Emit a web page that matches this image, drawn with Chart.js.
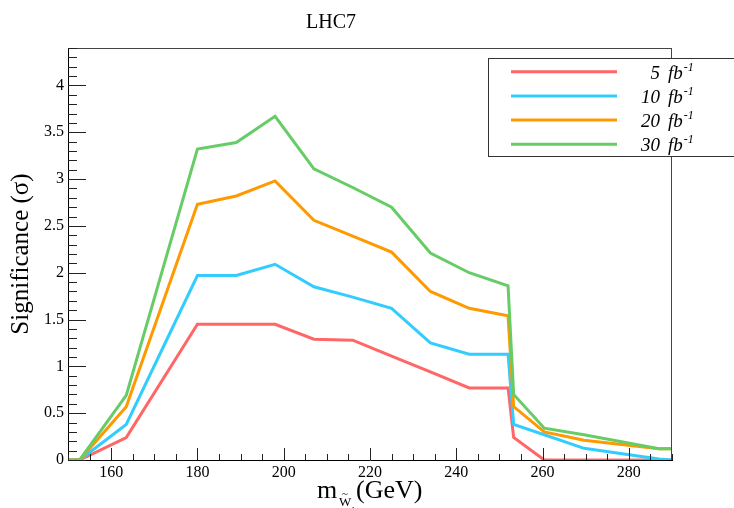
<!DOCTYPE html>
<html>
<head>
<meta charset="utf-8">
<script src="https://cdn.jsdelivr.net/npm/chart.js@4.4.1/dist/chart.umd.min.js"></script>
<style>
  html, body { margin: 0; padding: 0; background: #fff; }
  #wrap { width: 734px; height: 508px; }
</style>
</head>
<body>
<div id="wrap"><canvas id="chart" width="734" height="508"></canvas></div>
<script>
'use strict';

// ── Data ──────────────────────────────────────────────────────────────────────

const masses = [150, 152.7, 163.5, 180, 189, 198, 207, 216, 225, 234, 243, 252, 253.3, 260.4, 269.6, 287, 290];
const sig5   = [0, 0, 0.24, 1.45, 1.45, 1.45, 1.29, 1.28, 1.11, 0.94, 0.77, 0.77, 0.24, 0, 0, 0, 0];
const sig10  = [0, 0, 0.38, 1.97, 1.97, 2.09, 1.85, 1.74, 1.62, 1.25, 1.13, 1.13, 0.38, 0.27, 0.125, 0.01, 0];
const sig20  = [0, 0, 0.57, 2.73, 2.82, 2.98, 2.56, 2.39, 2.22, 1.80, 1.62, 1.54, 0.57, 0.30, 0.21, 0.12, 0.12];
const sig30  = [0, 0, 0.69, 3.32, 3.39, 3.67, 3.11, 2.91, 2.70, 2.21, 2.00, 1.86, 0.70, 0.34, 0.27, 0.12, 0.12];

const lumis      = ['5', '10', '20', '30'];
const lineColors = ['#ff6666', '#33ccff', '#ff9900', '#66cc66'];
const xTicks = [160, 180, 200, 220, 240, 260, 280];
const yTicks = [0, 0.5, 1, 1.5, 2, 2.5, 3, 3.5, 4];

const SERIF = "'Liberation Serif', 'Times New Roman', 'DejaVu Serif', serif";

const series = [sig5, sig10, sig20, sig30];

// ── Frame, inner ticks, legend and labels ─────────────────────────────────────

const framePlugin = {
  id: 'frame',
  afterDraw(chart) {
    const { ctx, chartArea: a, scales: { x, y } } = chart;
    ctx.save();

    // top + right frame
    ctx.strokeStyle = '#444';
    ctx.lineWidth = 1;
    ctx.beginPath();
    ctx.moveTo(a.left, a.top + 0.5);
    ctx.lineTo(a.right, a.top + 0.5);
    ctx.moveTo(a.right - 0.5, a.top);
    ctx.lineTo(a.right - 0.5, a.bottom);
    ctx.stroke();

    // ticks pointing inward
    ctx.strokeStyle = '#222';
    ctx.beginPath();
    for (let v = 150; v <= 290; v += 5) {
      const px = Math.round(x.getPixelForValue(v)) + 0.5;
      const len = v % 20 === 0 ? 12 : 6;
      ctx.moveTo(px, a.bottom);
      ctx.lineTo(px, a.bottom - len);
    }
    for (let i = 0; i <= 44; i++) {
      const py = Math.round(y.getPixelForValue(i / 10)) + 0.5;
      const len = i % 5 === 0 ? 18 : 9;
      ctx.moveTo(a.left, py);
      ctx.lineTo(a.left + len, py);
    }
    ctx.stroke();

    // legend box
    ctx.fillStyle = '#fff';
    ctx.fillRect(488, 58, 260, 98);
    ctx.strokeStyle = '#333';
    ctx.strokeRect(488.5, 58.5, 260, 98);

    chart.data.datasets.forEach((ds, i) => {
      const yy = 71.7 + i * 24.2;
      ctx.strokeStyle = ds.borderColor;
      ctx.lineWidth = 3;
      ctx.beginPath();
      ctx.moveTo(511, yy);
      ctx.lineTo(617, yy);
      ctx.stroke();

      ctx.fillStyle = '#000';
      ctx.textBaseline = 'alphabetic';
      ctx.font = `italic 19px ${SERIF}`;
      ctx.textAlign = 'right';
      ctx.fillText(lumis[i], 660, yy + 6.8);
      ctx.textAlign = 'left';
      ctx.fillText('fb', 668, yy + 6.8);
      const w = ctx.measureText('fb').width;
      ctx.font = `italic 12px ${SERIF}`;
      ctx.fillText('-1', 668 + w + 1, yy - 1);
    });

    // title
    ctx.fillStyle = '#000';
    ctx.textAlign = 'center';
    ctx.font = `20px ${SERIF}`;
    ctx.fillText('LHC7', 331, 28);

    // x axis title: m_{W~1} (GeV)
    ctx.textAlign = 'left';
    ctx.font = `26px ${SERIF}`;
    ctx.fillText('m', 317, 498);
    ctx.font = `13px ${SERIF}`;
    ctx.fillText('W', 339, 506);
    ctx.textAlign = 'center';
    ctx.font = `11px ${SERIF}`;
    ctx.fillText('~', 345, 497);
    ctx.textAlign = 'left';
    ctx.font = `9px ${SERIF}`;
    ctx.fillText('1', 351, 513);
    ctx.font = `26px ${SERIF}`;
    ctx.fillText('(GeV)', 356, 498);

    ctx.restore();
  },
};

// ── Chart ─────────────────────────────────────────────────────────────────────

const ctx = document.getElementById('chart').getContext('2d');
new Chart(ctx, {
  type: 'line',
  data: {
    datasets: series.map((vals, i) => ({
      label: lumis[i] + ' fb-1',
      data: masses.map((m, j) => ({ x: m, y: vals[j] })),
      borderColor: lineColors[i],
      backgroundColor: lineColors[i],
      borderWidth: 3,
      pointRadius: 0,
      tension: 0,
      fill: false,
      order: series.length - 1 - i,
    })),
  },
  options: {
    responsive: false,
    animation: false,
    layout: { padding: { top: 48, right: 62, left: 0, bottom: 0 } },
    plugins: { legend: { display: false }, tooltip: { enabled: false } },
    scales: {
      x: {
        type: 'linear',
        min: 150, max: 290,
        grid: { display: false, drawTicks: false },
        border: { display: true, color: '#000', width: 1 },
        afterBuildTicks: s => { s.ticks = xTicks.map(v => ({ value: v })); },
        afterFit: s => { s.height = 48; },
        ticks: { color: '#000', padding: 3, maxRotation: 0, font: { family: SERIF, size: 16 } },
      },
      y: {
        min: 0, max: 4.4,
        grid: { display: false, drawTicks: false },
        border: { display: true, color: '#000', width: 1 },
        afterBuildTicks: s => { s.ticks = yTicks.map(v => ({ value: v })); },
        afterFit: s => { s.width = 68; },
        ticks: {
          color: '#000', padding: 4, font: { family: SERIF, size: 16 },
          callback: v => String(v),
        },
        title: {
          display: true,
          text: 'Significance (σ)',
          color: '#000',
          font: { family: SERIF, size: 25 },
          padding: { top: 6, bottom: 0 },
        },
      },
    },
  },
  plugins: [framePlugin],
});
</script>
</body>
</html>
